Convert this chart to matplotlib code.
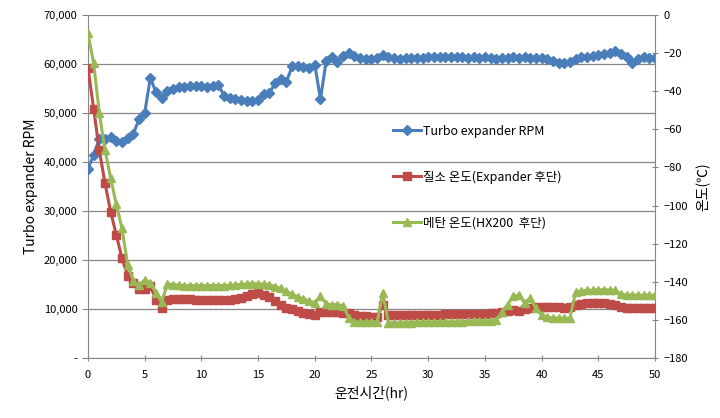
import numpy as np
import matplotlib
matplotlib.use("Agg")
import matplotlib.pyplot as plt
from matplotlib.ticker import FuncFormatter, MultipleLocator

plt.rcParams['font.family'] = ['Noto Sans CJK KR', 'DejaVu Sans']

hours = np.arange(0, 50.5, 0.5)

rpm = [
    38600, 41500, 44700, 44800, 45100, 44300, 44000, 45000, 45700, 48800,
    50000, 57200, 54200, 53100, 54500, 54900, 55300, 55400, 55500, 55600,
    55600, 55400, 55500, 55800, 53500, 53000, 52800, 52600, 52500, 52500,
    52700, 53900, 54000, 56200, 57000, 56400, 59500, 59600, 59400, 59200,
    59900, 52800, 60600, 61400, 60400, 61600, 62200, 61600, 61200, 61100,
    61100, 61300, 61800, 61400, 61200, 61100, 61200, 61200, 61300, 61300,
    61400, 61400, 61400, 61400, 61400, 61400, 61400, 61300, 61400, 61300,
    61400, 61200, 61100, 61300, 61300, 61400, 61300, 61400, 61300, 61200,
    61200, 61000, 60700, 60300, 60300, 60500, 61000, 61400, 61500, 61700,
    61900, 62000, 62200, 62700, 62000, 61400, 60300, 61000, 61400, 61300,
    61300,
]

n2_temp = [
    -27.6, -49.3, -71.0, -88.3, -103.2, -115.5, -127.7, -136.8, -140.8, -144.0,
    -144.0, -142.0, -149.6, -153.6, -149.6, -149.0, -148.8, -149.0, -149.2, -149.3,
    -149.4, -149.5, -149.5, -149.6, -149.8, -149.5, -149.2, -148.5, -147.5, -146.5,
    -146.0, -147.0, -148.0, -150.0, -152.0, -153.5, -154.5, -155.5, -156.3, -157.0,
    -157.5, -156.0, -156.0, -156.0, -156.0, -156.2, -156.5, -157.5, -158.0, -158.2,
    -158.3, -158.3, -152.0, -157.5, -157.5, -157.5, -157.4, -157.4, -157.3, -157.3,
    -157.2, -157.2, -157.2, -157.1, -157.1, -157.0, -157.0, -157.0, -156.9, -156.8,
    -156.7, -156.5, -156.3, -156.0, -155.5, -155.0, -155.5, -154.5, -153.5, -153.3,
    -153.2, -153.2, -153.3, -153.4, -153.5, -153.0, -152.0, -151.5, -151.3, -151.2,
    -151.2, -151.3, -151.5, -152.0, -153.0, -153.5, -154.0, -154.0, -154.0, -154.0,
    -154.0,
]

ch4_temp = [
    -9.6, -25.4, -51.5, -70.8, -85.7, -99.4, -112.0, -131.0, -139.5, -141.7,
    -139.0, -140.5, -146.0, -150.8, -141.0, -141.5, -141.8, -142.0, -142.0, -142.0,
    -142.0, -142.0, -142.0, -142.0, -142.0, -141.8, -141.6, -141.4, -141.2, -141.0,
    -141.0, -141.2, -141.5, -142.5, -143.5, -145.0, -146.5, -148.0, -149.0, -150.0,
    -151.0, -147.5, -151.5, -152.0, -152.0, -152.5, -159.0, -161.0, -161.0, -161.0,
    -161.0, -161.0, -146.0, -161.5, -161.5, -161.5, -161.4, -161.4, -161.3, -161.3,
    -161.2, -161.2, -161.1, -161.0, -161.0, -161.0, -160.9, -160.8, -160.7, -160.6,
    -160.5, -160.5, -160.0, -156.0, -152.0, -147.5, -147.0, -151.0, -148.5, -154.0,
    -157.5, -158.5, -159.0, -159.0, -159.2, -159.0, -145.5, -144.8, -144.5, -144.3,
    -144.2, -144.2, -144.3, -144.5, -146.5, -147.0, -147.0, -147.0, -147.0, -147.0,
    -147.0,
]

fig = plt.figure(figsize=(7.2, 4.18), dpi=100)
ax = fig.add_axes([0.1222, 0.1435, 0.7875, 0.8205])
ax2 = ax.twinx()

l1, = ax.plot(hours, rpm, color="#4A7EBB", lw=2.2, marker="D", ms=5,
              label="Turbo expander RPM", zorder=3)
l2, = ax2.plot(hours, n2_temp, color="#BE4B48", lw=2.2, marker="s", ms=5.5,
               label="질소 온도(Expander 후단)", zorder=3)
l3, = ax2.plot(hours, ch4_temp, color="#98B954", lw=2.2, marker="^", ms=6,
               label="메탄 온도(HX200  후단)", zorder=4)

ax.set_xlim(0, 50)
ax.set_ylim(0, 70000)
ax2.set_ylim(-180, 0)
ax.xaxis.set_major_locator(MultipleLocator(5))
ax.yaxis.set_major_locator(MultipleLocator(10000))
ax2.yaxis.set_major_locator(MultipleLocator(20))
ax.yaxis.set_major_formatter(FuncFormatter(lambda v, p: "-" if v == 0 else f"{v:,.0f}"))

ax.grid(axis="y", color="#868686", lw=0.9)
ax.set_axisbelow(True)
for a in (ax, ax2):
    for s in a.spines.values():
        s.set_color("#868686")
    a.spines["top"].set_visible(False)
ax.spines["right"].set_visible(False)
ax2.spines["left"].set_visible(False)
ax2.spines["bottom"].set_visible(False)

ax.tick_params(axis="x", direction="inout", length=5, color="#868686", labelsize=8, pad=6)
ax.tick_params(axis="y", direction="out", length=4, color="#868686", labelsize=8)
ax2.tick_params(axis="y", direction="inout", length=5, color="#868686", labelsize=8)

ax.set_xlabel("운전시간(hr)", fontsize=10)
ax.set_ylabel("Turbo expander RPM", fontsize=10)
ax2.set_ylabel("온도(℃)", fontsize=10, rotation=90, labelpad=6)

ax2.legend(handles=[l1, l2, l3], loc="upper left", bbox_to_anchor=(0.538, 0.68),
           frameon=False, fontsize=9, borderpad=0, borderaxespad=0,
           labelspacing=2.6, handlelength=2.2, handletextpad=0.2)

fig.savefig("out.png", dpi=100)
